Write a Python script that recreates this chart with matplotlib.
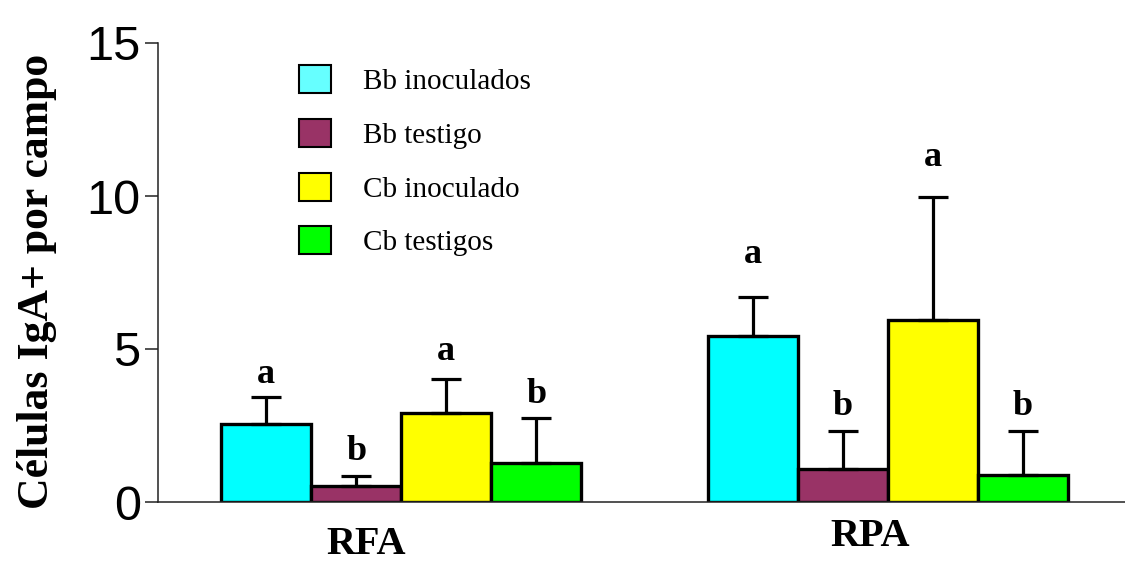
# -*- coding: utf-8 -*-
"""
Células IgA+ por campo en RFA y RPA, barras con error estándar
"""

import numpy as np
import matplotlib
matplotlib.use("Agg")
import matplotlib.pyplot as plt

plt.rcParams['font.family'] = ['Liberation Serif', 'DejaVu Serif']

regiones = ['RFA', 'RPA']
grupos = ['Bb inoculados', 'Bb testigo', 'Cb inoculado', 'Cb testigos']
colores = ['#00FFFF', '#993366', '#FFFF00', '#00FF00']

# medias por grupo (filas) y región (columnas)
medias = {
    'Bb inoculados': [2.55, 5.44],
    'Bb testigo': [0.52, 1.08],
    'Cb inoculado': [2.92, 5.96],
    'Cb testigos': [1.28, 0.88],
}
errores = {
    'Bb inoculados': [0.89, 1.27],
    'Bb testigo': [0.33, 1.25],
    'Cb inoculado': [1.11, 4.00],
    'Cb testigos': [1.47, 1.45],
}
letras = {
    'Bb inoculados': ['a', 'a'],
    'Bb testigo': ['b', 'b'],
    'Cb inoculado': ['a', 'a'],
    'Cb testigos': ['b', 'b'],
}

# separación (px) entre el extremo del error y la letra
sep_letra = {
    'Bb inoculados': [14, 34],
    'Bb testigo': [16, 16],
    'Cb inoculado': [19, 31],
    'Cb testigos': [15, 16],
}

fig = plt.figure(figsize=(11.25, 5.63), dpi=100)
ax = fig.add_axes([158 / 1125, 1 - 502 / 563, 1 - 158 / 1125, (502 - 43) / 563])

x = np.arange(len(regiones))
ancho = 0.185
for i, g in enumerate(grupos):
    pos = x + (i - 1.5) * ancho
    ax.bar(pos, medias[g], ancho, color=colores[i], edgecolor='black',
           linewidth=2.4, label=g, zorder=2)
    ax.errorbar(pos, medias[g], yerr=[np.zeros(len(regiones)), errores[g]],
                fmt='none', ecolor='black', elinewidth=2.3, capsize=11,
                capthick=2.3, zorder=3)
    for j in range(len(regiones)):
        tope = medias[g][j] + errores[g][j]
        ax.annotate(letras[g][j], (pos[j], tope),
                    xytext=(0, sep_letra[g][j] * 0.72), textcoords='offset points',
                    ha='center', va='baseline', fontsize=26, fontweight='bold')

ax.set_xlim(-0.5, 1.487)
ax.set_ylim(0, 15)
ax.set_yticks([0, 5, 10, 15])
ax.set_xticks([])
ax.tick_params(axis='y', direction='out', length=9.5, width=1.1, pad=3,
               labelsize=35, colors='#222222', labelcolor='black')
for lab in ax.get_yticklabels():
    lab.set_family('Liberation Sans')
for s in ['top', 'right']:
    ax.spines[s].set_visible(False)
for s in ['left', 'bottom']:
    ax.spines[s].set_linewidth(1.1)
    ax.spines[s].set_color('#222222')

# etiquetas de región
ax.text(x[0] - 0.072, -0.113, regiones[0], transform=ax.get_xaxis_transform(),
        ha='center', va='baseline', fontsize=29, fontweight='bold')
ax.text(x[1] - 0.036, -0.096, regiones[1], transform=ax.get_xaxis_transform(),
        ha='center', va='baseline', fontsize=29, fontweight='bold')

fig.text(37 / 1125, 1 - 281 / 563, 'Células IgA+ por campo', rotation=90,
         ha='center', va='center', fontsize=31.5, fontweight='bold')

leg = ax.legend(loc='upper left', bbox_to_anchor=(299 / 1125, 1 - 65 / 563),
                bbox_transform=fig.transFigure, frameon=False, fontsize=21,
                handlelength=1.1, handleheight=1.1, labelspacing=0.82,
                handletextpad=1.1, borderpad=0, borderaxespad=0)
for h in leg.legend_handles:
    h.set_linewidth(1.5)
leg.legend_handles[0].set_facecolor('#66FFFF')

plt.savefig('out.png', dpi=100)
plt.close(fig)
